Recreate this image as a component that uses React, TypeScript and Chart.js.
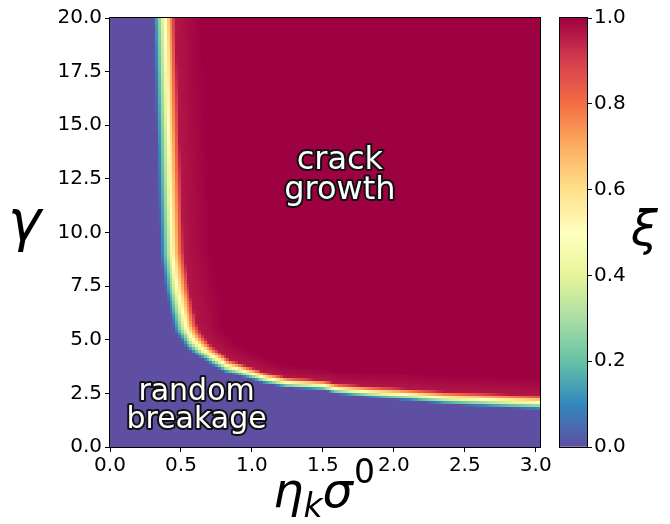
import React, { useEffect, useRef } from "react";
import { Chart, registerables } from "chart.js";
Chart.register(...registerables);

// ---------- data ----------
const X_MIN = 0;
const X_MAX = 3.03;
const Y_MIN = 0;
const Y_MAX = 20;
const X_TICKS = [0, 0.5, 1.0, 1.5, 2.0, 2.5, 3.0];
const Y_TICKS = [0, 2.5, 5.0, 7.5, 10.0, 12.5, 15.0, 17.5, 20.0];
const CB_TICKS = [0, 0.2, 0.4, 0.6, 0.8, 1.0];

// heatmap cell grid (eta step, gamma step)
const CELL_DX = 0.02;
const CELL_DY = 20 / 150;
const NX = 152;
const NY = 150;

// xi = 0.5 contour (eta, gamma) and transition width (% of axis)
const CONTOUR_ETA = [0.385, 0.387, 0.41, 0.44, 0.475, 0.535, 0.585, 0.645, 0.73, 0.82, 0.94, 1.1, 1.25, 1.5, 1.6, 1.85, 2.1, 2.35, 2.7, 3.03, 3.2];
const CONTOUR_GAMMA = [21, 20, 15, 9, 7.4, 5.6, 5.0, 4.6, 4.2, 3.8, 3.55, 3.2, 3.0, 2.88, 2.72, 2.56, 2.45, 2.3, 2.18, 2.08, 2.05];
const CONTOUR_WIDTH = [5.2, 5.2, 5.4, 5.6, 5.8, 5.6, 5.0, 4.4, 3.8, 3.4, 3.0, 2.7, 2.5, 2.4, 2.5, 2.8, 3.0, 3.2, 3.4, 3.5, 3.5];

const SPECTRAL_R = ["#5e4fa2", "#3288bd", "#66c2a5", "#abdda4", "#e6f598", "#ffffbf", "#fee08b", "#fdae61", "#f46d43", "#d53e4f", "#9e0142"];

const ANNOT_LINES = [["crack", "growth"], ["random", "breakage"]];
const ANNOT_ETA = [1.62, 0.61];
const ANNOT_GAMMA = [12.7, 1.95];
const ANNOT_SIZE = [32, 30];

// ---------- helpers ----------
function hexToRgb(h: string) {
  return [parseInt(h.slice(1, 3), 16), parseInt(h.slice(3, 5), 16), parseInt(h.slice(5, 7), 16)];
}
const STOPS = SPECTRAL_R.map(hexToRgb);
function cmap(v: number) {
  const t = Math.max(0, Math.min(1, v)) * (STOPS.length - 1);
  const i = Math.min(STOPS.length - 2, Math.floor(t));
  const f = t - i;
  const a = STOPS[i], b = STOPS[i + 1];
  const r = Math.round(a[0] + (b[0] - a[0]) * f);
  const g = Math.round(a[1] + (b[1] - a[1]) * f);
  const bl = Math.round(a[2] + (b[2] - a[2]) * f);
  return `rgb(${r},${g},${bl})`;
}

function contourGammaAt(eta: number) {
  for (let k = 0; k < CONTOUR_ETA.length - 1; k++) {
    if (eta >= CONTOUR_ETA[k] && eta <= CONTOUR_ETA[k + 1]) {
      const f = (eta - CONTOUR_ETA[k]) / (CONTOUR_ETA[k + 1] - CONTOUR_ETA[k]);
      return CONTOUR_GAMMA[k] + (CONTOUR_GAMMA[k + 1] - CONTOUR_GAMMA[k]) * f;
    }
  }
  return eta < CONTOUR_ETA[0] ? Infinity : CONTOUR_GAMMA[CONTOUR_GAMMA.length - 1];
}

function xiAt(eta: number, gamma: number) {
  const sx = X_MAX - X_MIN, sy = Y_MAX - Y_MIN;
  const px = eta / sx, py = gamma / sy;
  let best = Infinity, bestW = 3;
  for (let k = 0; k < CONTOUR_ETA.length - 1; k++) {
    const ax = CONTOUR_ETA[k] / sx, ay = CONTOUR_GAMMA[k] / sy;
    const bx = CONTOUR_ETA[k + 1] / sx, by = CONTOUR_GAMMA[k + 1] / sy;
    const dx = bx - ax, dy = by - ay;
    let t = ((px - ax) * dx + (py - ay) * dy) / (dx * dx + dy * dy);
    t = Math.max(0, Math.min(1, t));
    const qx = ax + dx * t, qy = ay + dy * t;
    const d = Math.hypot(px - qx, py - qy);
    if (d < best) {
      best = d;
      bestW = CONTOUR_WIDTH[k] + (CONTOUR_WIDTH[k + 1] - CONTOUR_WIDTH[k]) * t;
    }
  }
  const red = eta >= CONTOUR_ETA[0] && gamma > contourGammaAt(eta);
  const w = bestW / 100;
  if (!red) return Math.max(0, 0.5 - best / w);
  let v = Math.min(1, 0.5 + best / w);
  // slightly lighter red just inside the crack-growth region
  if (best < 1.6 * w) v = Math.min(v, 1 - 0.05 * (1 - best / (1.6 * w)));
  return v;
}

const CELL_COLORS: string[][] = [];
for (let j = 0; j < NY; j++) {
  const row: string[] = [];
  for (let i = 0; i < NX; i++) {
    row.push(cmap(xiAt((i + 0.5) * CELL_DX, (j + 0.5) * CELL_DY)));
  }
  CELL_COLORS.push(row);
}

const FONT = "'DejaVu Sans', sans-serif";

const heatmapPlugin = {
  id: "heatmap",
  beforeDatasetsDraw(chart: any) {
    const { ctx, chartArea: a, scales } = chart;
    const x = scales.x, y = scales.y;
    ctx.save();
    ctx.beginPath();
    ctx.rect(a.left, a.top, a.right - a.left, a.bottom - a.top);
    ctx.clip();
    for (let j = 0; j < NY; j++) {
      const y0 = Math.round(y.getPixelForValue((j + 1) * CELL_DY));
      const y1 = Math.round(y.getPixelForValue(j * CELL_DY));
      for (let i = 0; i < NX; i++) {
        const x0 = Math.round(x.getPixelForValue(i * CELL_DX));
        const x1 = Math.round(x.getPixelForValue((i + 1) * CELL_DX));
        ctx.fillStyle = CELL_COLORS[j][i];
        ctx.fillRect(x0, y0, x1 - x0, y1 - y0);
      }
    }
    ctx.restore();
  },
  afterDatasetsDraw(chart: any) {
    const { ctx, chartArea: a, scales } = chart;
    ctx.save();
    ctx.strokeStyle = "#000";
    ctx.lineWidth = 1;
    ctx.strokeRect(a.left - 0.5, a.top - 0.5, a.right - a.left + 1, a.bottom - a.top + 1);
    // annotations
    ctx.textAlign = "center";
    ctx.textBaseline = "alphabetic";
    ctx.lineJoin = "round";
    for (let k = 0; k < ANNOT_LINES.length; k++) {
      const cx = scales.x.getPixelForValue(ANNOT_ETA[k]);
      const cy = scales.y.getPixelForValue(ANNOT_GAMMA[k]);
      const fs = ANNOT_SIZE[k];
      ctx.font = `${fs}px ${FONT}`;
      const lines = ANNOT_LINES[k];
      const lh = fs * 0.95;
      for (let l = 0; l < lines.length; l++) {
        const by = cy + (l - (lines.length - 1) / 2) * lh + fs * 0.3;
        ctx.strokeStyle = "#111";
        ctx.lineWidth = 4;
        ctx.strokeText(lines[l], cx, by);
        ctx.fillStyle = "#fff";
        ctx.fillText(lines[l], cx, by);
      }
    }
    // axis titles
    ctx.fillStyle = "#000";
    ctx.textAlign = "left";
    ctx.font = `italic 56px ${FONT}`;
    ctx.fillText("γ", 8, 240);
    // x title: eta_k sigma^0
    let px = 273;
    const base = 507;
    ctx.font = `italic 48px ${FONT}`;
    ctx.fillText("η", px, base);
    px += ctx.measureText("η").width;
    ctx.font = `italic 33px ${FONT}`;
    ctx.fillText("k", px, base + 10);
    px += ctx.measureText("k").width;
    ctx.font = `italic 48px ${FONT}`;
    ctx.fillText("σ", px, base);
    px += ctx.measureText("σ").width + 1;
    ctx.font = `33px ${FONT}`;
    ctx.fillText("0", px, base - 24);
    ctx.restore();
  },
};

const cbPlugin = {
  id: "cbframe",
  afterDatasetsDraw(chart: any) {
    const { ctx, chartArea: a } = chart;
    ctx.save();
    ctx.strokeStyle = "#000";
    ctx.lineWidth = 1;
    ctx.strokeRect(a.left - 0.5, a.top - 0.5, a.right - a.left + 1, a.bottom - a.top + 1);
    ctx.fillStyle = "#000";
    ctx.font = `italic 48px ${FONT}`;
    ctx.textAlign = "left";
    ctx.fillText("ξ", 81, 245);
    ctx.restore();
  },
};

export default function App() {
  const mainRef = useRef<HTMLCanvasElement>(null);
  const cbRef = useRef<HTMLCanvasElement>(null);

  useEffect(() => {
    document.body.style.margin = "0";
    const tickFont = { family: FONT, size: 20 };
    const main = new Chart(mainRef.current!, {
      type: "scatter",
      data: { datasets: [{ data: [], pointRadius: 0 }] },
      options: {
        animation: false,
        responsive: false,
        layout: { padding: { left: 0, top: 18, right: 20, bottom: 0 } },
        plugins: { legend: { display: false }, tooltip: { enabled: false } },
        scales: {
          x: {
            type: "linear",
            min: X_MIN,
            max: X_MAX,
            afterBuildTicks: (s: any) => { s.ticks = X_TICKS.map((v) => ({ value: v })); },
            afterFit: (s: any) => { s.height = 77; },
            ticks: { font: tickFont, color: "#000", padding: 2, maxRotation: 0, autoSkip: false, callback: (v: any) => Number(v).toFixed(1) },
            grid: { display: true, drawOnChartArea: false, drawTicks: true, tickLength: 5, color: "#000", lineWidth: 1 },
            border: { display: false },
          },
          y: {
            type: "linear",
            min: Y_MIN,
            max: Y_MAX,
            afterBuildTicks: (s: any) => { s.ticks = Y_TICKS.map((v) => ({ value: v })); },
            afterFit: (s: any) => { s.width = 110; },
            ticks: { font: tickFont, color: "#000", padding: 3, autoSkip: false, callback: (v: any) => Number(v).toFixed(1) },
            grid: { display: true, drawOnChartArea: false, drawTicks: true, tickLength: 5, color: "#000", lineWidth: 1 },
            border: { display: false },
          },
        },
      },
      plugins: [heatmapPlugin],
    } as any);

    const cb = new Chart(cbRef.current!, {
      type: "bar",
      data: {
        labels: [""],
        datasets: [{
          data: [1],
          barPercentage: 1,
          categoryPercentage: 1,
          borderWidth: 0,
          backgroundColor: (c: any) => {
            const area = c.chart.chartArea;
            if (!area) return SPECTRAL_R[10];
            const g = c.chart.ctx.createLinearGradient(0, area.bottom, 0, area.top);
            SPECTRAL_R.forEach((col, k) => g.addColorStop(k / (SPECTRAL_R.length - 1), col));
            return g;
          },
        }],
      },
      options: {
        animation: false,
        responsive: false,
        layout: { padding: { left: 10, top: 18, right: 0, bottom: 77 } },
        plugins: { legend: { display: false }, tooltip: { enabled: false } },
        scales: {
          x: { display: false },
          y: {
            position: "right",
            min: 0,
            max: 1,
            afterBuildTicks: (s: any) => { s.ticks = CB_TICKS.map((v) => ({ value: v })); },
            afterFit: (s: any) => { s.width = 83; },
            ticks: { font: tickFont, color: "#000", padding: 2, autoSkip: false, callback: (v: any) => Number(v).toFixed(1) },
            grid: { display: true, drawOnChartArea: false, drawTicks: true, tickLength: 5, color: "#000", lineWidth: 1 },
            border: { display: false },
          },
        },
      },
      plugins: [cbPlugin],
    } as any);

    return () => { main.destroy(); cb.destroy(); };
  }, []);

  return (
    <div style={{ position: "fixed", left: 0, top: 0, width: 670, height: 524, background: "#fff" }}>
      <canvas ref={mainRef} width={560} height={524} style={{ position: "absolute", left: 0, top: 0, width: 560, height: 524 }} />
      <canvas ref={cbRef} width={120} height={524} style={{ position: "absolute", left: 550, top: 0, width: 120, height: 524 }} />
    </div>
  );
}
